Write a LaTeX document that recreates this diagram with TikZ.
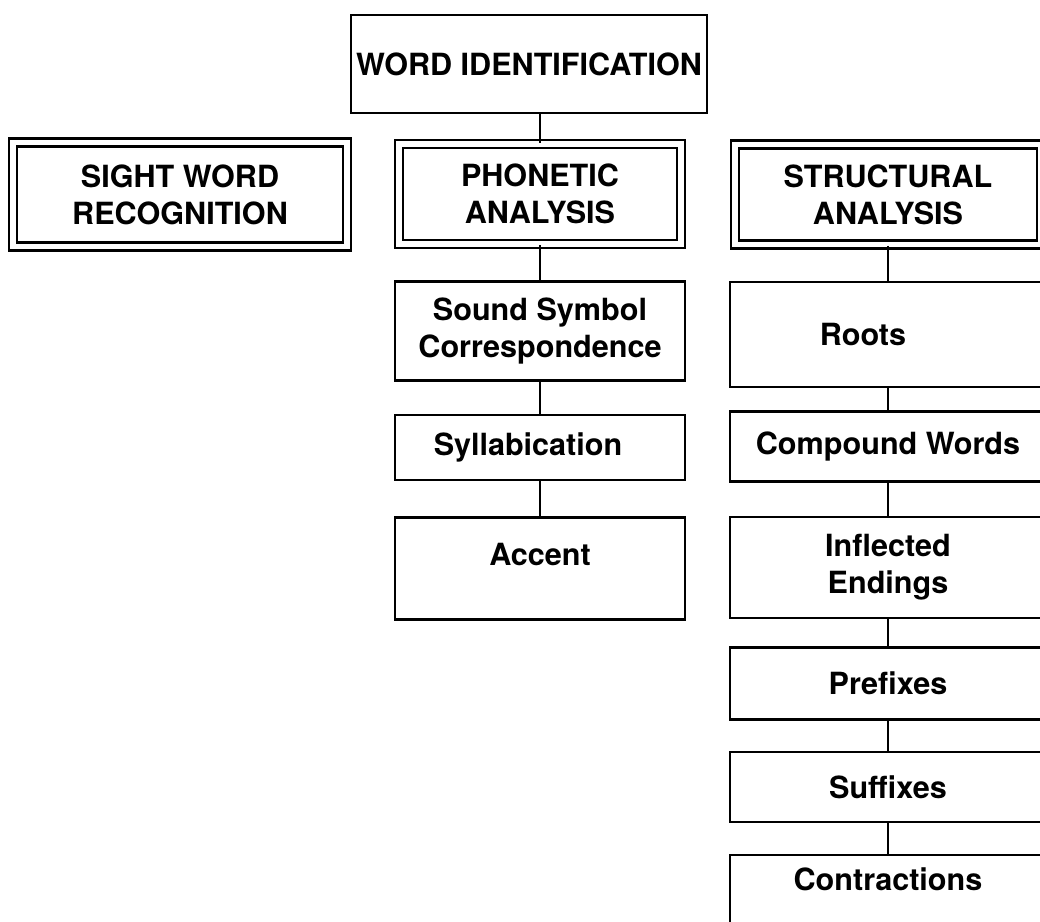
\documentclass[tikz,border=0pt]{standalone}
\usepackage{fontspec}
\setmainfont{TeX Gyre Heros}
\usepackage{tikz}
\usetikzlibrary{positioning}
\tikzset{
    topic/.style={
        rectangle,
        draw=black,
        line width=1.4pt,
        fill=white,
        align=center,
        inner sep=2pt,
        font=\bfseries\fontsize{17.4}{21}\selectfont
    },
    area/.style={
        topic,
        double,
        double distance=0.11cm,
        minimum height=2cm
    },
    skill/.style={
        topic,
        minimum width=5.8cm
    },
    part/.style={
        topic,
        minimum width=6.32cm
    },
    link/.style={
        draw=black,
        line width=1.4pt
    }
}

\begin{document}
\begin{tikzpicture}
\useasboundingbox (0,0) rectangle (20.8,-18.44);

% Top of the tree
\node[topic, minimum width=7.12cm, minimum height=1.96cm] (wordid) at (10.58,-1.28) {WORD IDENTIFICATION};

% Three kinds of analysis
\node[area, minimum width=6.68cm, minimum height=2.08cm] (sight) at (3.6,-3.89) {SIGHT WORD\\RECOGNITION};
\node[area, minimum width=5.64cm] (phonetic) at (10.8,-3.88) {PHONETIC\\ANALYSIS};
\node[area, minimum width=6.12cm] (structural) at (17.76,-3.89) {STRUCTURAL\\ANALYSIS};

% Phonetic chain
\node[skill, minimum height=1.98cm, below=0.7cm of phonetic] (sound) {Sound Symbol\\Correspondence};
\node[skill, minimum height=1.3cm, below=0.64cm of sound] (syllab) {Syllabication\hspace*{0.48cm}};
\node[skill, minimum height=2.04cm, text depth=0.56cm, below=0.7cm of syllab] (accent) {Accent};

% Structural chain
\node[part, minimum height=2.1cm, below=0.7cm of structural] (roots) {Roots\hspace*{1cm}};
\node[part, minimum height=1.4cm, below=0.44cm of roots] (compound) {Compound Words};
\node[part, minimum height=2.02cm, below=0.66cm of compound] (inflected) {Inflected\\Endings};
\node[part, minimum height=1.44cm, below=0.54cm of inflected] (prefixes) {Prefixes};
\node[part, minimum height=1.4cm, below=0.6cm of prefixes] (suffixes) {Suffixes};
\node[part, minimum height=2.1cm, below=0.62cm of suffixes] (contract) {Contractions\\[0.4cm]};

% Connections
\draw[link] (phonetic.north) -- (phonetic.north |- wordid.south);
\draw[link] (phonetic) -- (sound);
\draw[link] (sound) -- (syllab);
\draw[link] (syllab) -- (accent);
\draw[link] (structural) -- (roots);
\draw[link] (roots) -- (compound);
\draw[link] (compound) -- (inflected);
\draw[link] (inflected) -- (prefixes);
\draw[link] (prefixes) -- (suffixes);
\draw[link] (suffixes) -- (contract);

\end{tikzpicture}
\end{document}
